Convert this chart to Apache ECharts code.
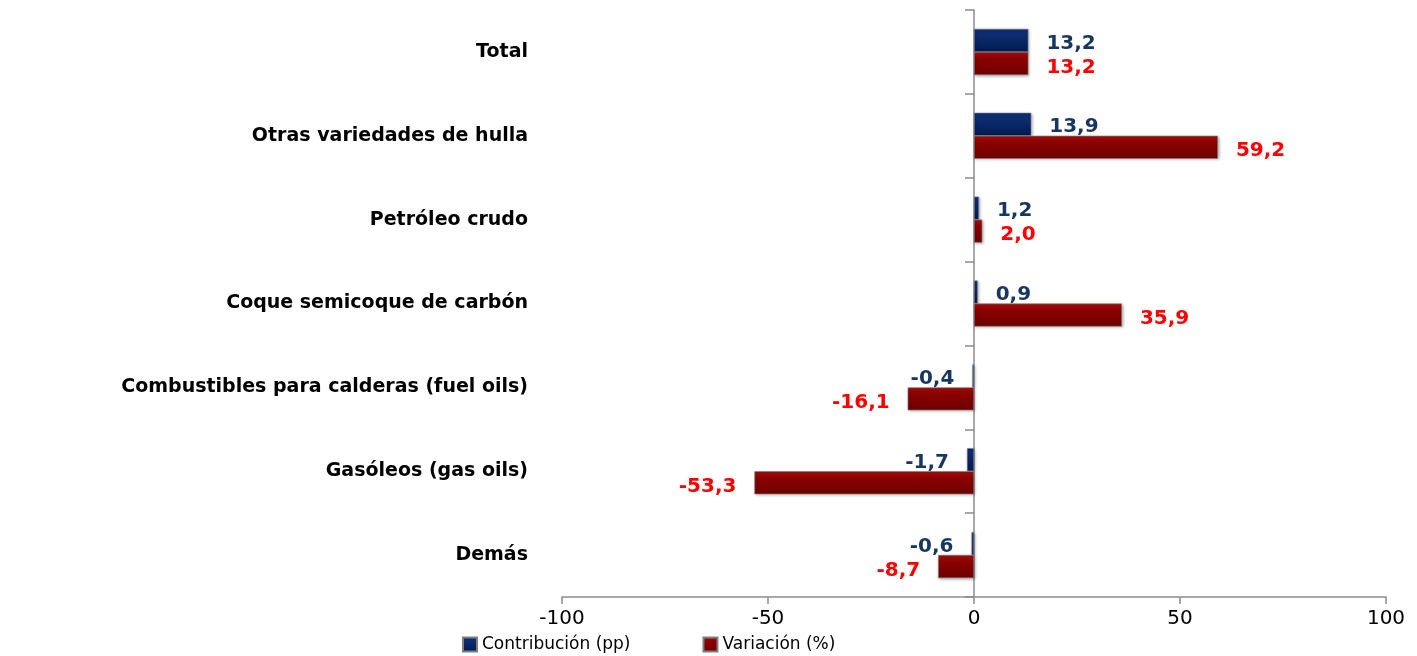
<!DOCTYPE html>
<html><head><meta charset="utf-8">
<script src="https://cdn.jsdelivr.net/npm/echarts@6/dist/echarts.min.js"></script>
<style>html,body{margin:0;padding:0;background:#fff}#c{width:1417px;height:656px}</style>
</head><body><div id="c"></div>
<script>
var categories = ['Total', 'Otras variedades de hulla', 'Petróleo crudo', 'Coque semicoque de carbón', 'Combustibles para calderas (fuel oils)', 'Gasóleos (gas oils)', 'Demás'];
var contribucion = [13.2, 13.9, 1.2, 0.9, -0.4, -1.7, -0.6];
var variacion = [13.2, 59.2, 2.0, 35.9, -16.1, -53.3, -8.7];
var xTicks = [-100, -50, 0, 50, 100];

var FONT = 'DejaVu Sans';
function fmt(v){ return v.toFixed(1).replace('.', ','); }
function items(arr, color, dist, dy){
  return arr.map(function(v){
    return {value: v, label: {show: true, position: v >= 0 ? 'right' : 'left', distance: dist, offset:[0,dy],
      formatter: function(p){ return fmt(p.value); }, color: color, fontFamily: FONT, fontWeight: 'bold', fontSize: 20}};
  });
}
var chart = echarts.init(document.getElementById('c'));
chart.setOption({
  animation: false,
  grid: {left: 562, right: 31, top: 10, bottom: 59, containLabel: false},
  legend: {bottom: -2, left: 457, itemWidth: 14, itemHeight: 14, itemGap: 72, icon: 'rect',
    textStyle: {fontFamily: FONT, fontSize: 17, color: '#000'},
    data: ['Contribución (pp)', 'Variación (%)']},
  xAxis: {type: 'value', min: xTicks[0], max: xTicks[xTicks.length-1], interval: 50,
    splitLine: {show: false},
    axisLine: {show: true, onZero: false, lineStyle: {color: '#8c8c8c', width: 1.5}},
    axisTick: {show: true, length: 7, lineStyle: {color: '#8c8c8c', width: 1.5}},
    axisLabel: {fontFamily: FONT, fontSize: 20, color: '#000', margin: 12}},
  yAxis: [
    {type: 'category', data: categories, inverse: true, position: 'left',
     axisLine: {show: false, onZero: false}, axisTick: {show: false},
     axisLabel: {fontFamily: FONT, fontWeight: 'bold', fontSize: 19, color: '#000', margin: 34}},
    {type: 'category', data: categories, inverse: true, position: 'left',
     axisLine: {show: true, onZero: true, lineStyle: {color: '#8c8c8c', width: 1.5}},
     axisTick: {show: true, length: 9, lineStyle: {color: '#8c8c8c', width: 1.5}},
     axisLabel: {show: false}}
  ],
  series: [
    {name: 'Contribución (pp)', type: 'bar', yAxisIndex: 0, barWidth: 23, barGap: '0%',
     data: items(contribucion, '#17375E', 18, 3),
     itemStyle: {color: new echarts.graphic.LinearGradient(0,0,0,1,[{offset:0,color:'#0a2f7a'},{offset:0.3,color:'#0d2c6e'},{offset:1,color:'#001a52'}]),
       borderColor: '#7f7f7f', borderWidth: 0.6, shadowColor: 'rgba(0,0,0,0.35)', shadowBlur: 3, shadowOffsetX: 1, shadowOffsetY: 1}},
    {name: 'Variación (%)', type: 'bar', yAxisIndex: 0, barWidth: 23, barGap: '0%',
     data: items(variacion, '#FF0000', 18, 4),
     itemStyle: {color: new echarts.graphic.LinearGradient(0,0,0,1,[{offset:0,color:'#a51010'},{offset:0.3,color:'#8b0000'},{offset:1,color:'#6e0000'}]),
       borderColor: '#7f7f7f', borderWidth: 0.6, shadowColor: 'rgba(0,0,0,0.35)', shadowBlur: 3, shadowOffsetX: 1, shadowOffsetY: 1}}
  ]
});
</script></body></html>
